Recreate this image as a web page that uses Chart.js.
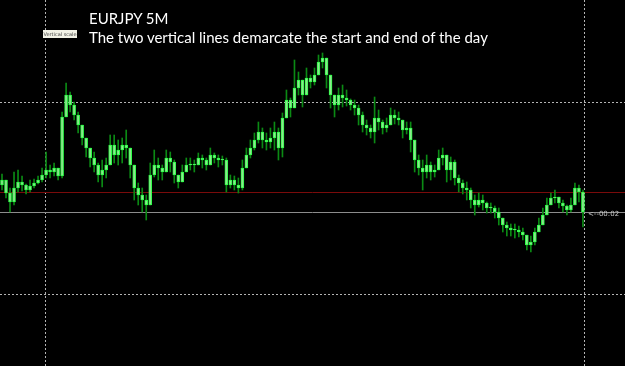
<!DOCTYPE html>
<html>
<head>
<meta charset="utf-8">
<script src="https://cdn.jsdelivr.net/npm/chart.js@4/dist/chart.umd.min.js"></script>
<style>
  body { margin: 0; background: #000; }
  #wrap { position: relative; width: 625px; height: 366px; background: #000; overflow: hidden; }
  #title { position: absolute; left: 89px; top: 9px; color: #fff; font: 15px Lato, sans-serif; line-height: 19px; white-space: nowrap; }
  #vscale { position: absolute; left: 43px; top: 30px; width: 34px; height: 8px; background: #f2f2e6; color: #444;
            font: 5px "DejaVu Sans", sans-serif; line-height: 8px; text-align: center; white-space: nowrap; overflow: hidden; }
  #timer { position: absolute; left: 588px; top: 210px; color: #c8c8c8; font: 7px "DejaVu Sans", sans-serif; white-space: nowrap; }
</style>
</head>
<body>
<div id="wrap">
  <canvas id="chart"></canvas>
  <div id="title">EURJPY 5M<br>The two vertical lines demarcate the start and end of the day</div>
  <div id="vscale">Vertical scale</div>
  <div id="timer">&lt;--00:02</div>
</div>
<script>
// EURJPY M5 Kerzen
const closes = [
  101.570,101.505,101.460,101.530,101.560,101.545,101.520,101.540,101.555,101.570,
  101.595,101.620,101.610,101.630,101.590,101.885,101.995,101.945,101.895,101.845,
  101.780,101.730,101.680,101.645,101.595,101.620,101.645,101.745,101.695,101.720,
  101.745,101.730,101.645,101.530,101.495,101.470,101.445,101.595,101.645,101.630,
  101.610,101.680,101.660,101.595,101.560,101.610,101.645,101.645,101.645,101.680,
  101.670,101.645,101.695,101.680,101.670,101.670,101.545,101.570,101.545,101.530,
  101.630,101.695,101.730,101.770,101.810,101.770,101.760,101.780,101.810,101.730,
  101.880,101.970,101.930,102.030,102.070,101.995,102.080,102.060,102.095,102.160,
  102.180,102.095,101.995,101.945,101.995,101.980,101.970,101.945,101.930,101.895,
  101.845,101.830,101.810,101.880,101.860,101.830,101.845,101.895,101.880,101.870,
  101.820,101.830,101.770,101.670,101.630,101.610,101.645,101.610,101.620,101.680,
  101.695,101.620,101.660,101.580,101.555,101.530,101.520,101.470,101.445,101.470,
  101.455,101.430,101.430,101.410,101.380,101.345,101.330,101.320,101.320,101.310,
  101.295,101.245,101.260,101.310,101.345,101.395,101.445,101.480,101.485,101.455,
  101.440,101.420,101.445,101.530,101.510,101.410
];
const highs = [
  101.600,101.570,101.530,101.610,101.620,101.590,101.550,101.570,101.575,101.590,
  101.630,101.710,101.645,101.655,101.620,101.910,102.055,102.010,101.960,101.910,
  101.830,101.770,101.730,101.710,101.655,101.670,101.680,101.795,101.795,101.770,
  101.780,101.820,101.720,101.610,101.555,101.530,101.495,101.655,101.720,101.680,
  101.645,101.720,101.710,101.670,101.595,101.645,101.680,101.680,101.670,101.705,
  101.695,101.680,101.730,101.705,101.695,101.690,101.680,101.595,101.590,101.580,
  101.670,101.730,101.770,101.805,101.860,101.830,101.805,101.830,101.860,101.830,
  101.905,102.020,101.980,102.170,102.110,102.070,102.130,102.095,102.130,102.195,
  102.205,102.160,102.045,101.995,102.030,102.045,102.020,101.975,101.970,101.945,
  101.910,101.870,101.845,101.985,101.920,101.870,101.880,101.930,101.920,101.910,
  101.870,101.860,101.860,101.730,101.695,101.670,101.695,101.660,101.645,101.720,
  101.730,101.695,101.685,101.670,101.595,101.570,101.560,101.530,101.495,101.505,
  101.495,101.460,101.455,101.440,101.430,101.380,101.360,101.350,101.350,101.340,
  101.330,101.290,101.290,101.330,101.380,101.430,101.480,101.505,101.520,101.485,
  101.470,101.445,101.480,101.555,101.545,101.520
];
const lows = [
  101.520,101.480,101.410,101.445,101.510,101.515,101.500,101.510,101.530,101.550,
  101.560,101.580,101.580,101.590,101.570,101.580,101.920,101.910,101.870,101.805,
  101.745,101.685,101.635,101.610,101.560,101.535,101.580,101.655,101.655,101.645,
  101.655,101.680,101.580,101.470,101.445,101.410,101.370,101.495,101.585,101.570,
  101.570,101.645,101.610,101.555,101.530,101.570,101.610,101.620,101.610,101.655,
  101.630,101.620,101.660,101.655,101.635,101.645,101.510,101.530,101.520,101.505,
  101.520,101.630,101.680,101.720,101.755,101.730,101.720,101.730,101.720,101.670,
  101.685,101.885,101.885,101.985,101.995,101.935,102.010,102.030,102.045,102.095,
  102.130,102.030,101.930,101.885,101.920,101.935,101.940,101.920,101.895,101.845,
  101.810,101.795,101.780,101.755,101.820,101.800,101.810,101.845,101.850,101.845,
  101.780,101.800,101.710,101.610,101.595,101.520,101.580,101.570,101.585,101.630,
  101.645,101.560,101.570,101.545,101.510,101.500,101.470,101.430,101.395,101.435,
  101.420,101.405,101.405,101.380,101.345,101.310,101.290,101.290,101.280,101.285,
  101.270,101.220,101.210,101.245,101.310,101.360,101.410,101.445,101.455,101.430,
  101.410,101.395,101.410,101.480,101.460,101.335
];
const firstOpen = 101.545;

const gridPrices = [101.00, 101.96];   // gepunktete Preisraster
const dayLines = [10.75, 145.25];      // Tagesbeginn / Tagesende (Kerzenindex)
const prevCloseLevel = 101.51;         // rote Linie
const bidLevel = 101.41;               // graue Linie (aktueller Kurs)
const slotCount = 156;                 // inkl. Leerraum rechts (chart shift)

// Zeitlabels (5-Minuten-Takt)
const labels = [];
for (let i = 0; i < slotCount; i++) {
    const m = (23 * 60 + 5 + i * 5) % 1440;
    labels.push(String(Math.floor(m / 60)).padStart(2, '0') + ':' + String(m % 60).padStart(2, '0'));
}

const opens = closes.map((c, i) => i === 0 ? firstOpen : closes[i - 1]);
const wicks = closes.map((c, i) => [Math.min(lows[i], opens[i], c), Math.max(highs[i], opens[i], c)]);
const bodies = closes.map((c, i) => [opens[i], c]);

function crisp(v) { return Math.round(v) + 0.5; }

const overlayLines = {
    id: 'overlayLines',
    beforeDatasetsDraw(chart) {
        const { ctx, chartArea: a, scales: { x, y } } = chart;
        ctx.save();
        ctx.lineWidth = 1;
        ctx.strokeStyle = '#b4b4b4';
        ctx.setLineDash([2, 2]);
        gridPrices.forEach(p => {
            const py = crisp(y.getPixelForValue(p));
            ctx.beginPath(); ctx.moveTo(a.left, py); ctx.lineTo(a.right, py); ctx.stroke();
        });
        dayLines.forEach(idx => {
            const px = crisp(x.getPixelForValue(idx));
            ctx.beginPath(); ctx.moveTo(px, a.top); ctx.lineTo(px, a.bottom); ctx.stroke();
        });
        ctx.setLineDash([]);
        let py = crisp(y.getPixelForValue(prevCloseLevel));
        ctx.strokeStyle = '#7a0b0b';
        ctx.beginPath(); ctx.moveTo(a.left, py); ctx.lineTo(a.right, py); ctx.stroke();
        py = crisp(y.getPixelForValue(bidLevel));
        ctx.strokeStyle = '#8c8c8c';
        ctx.beginPath(); ctx.moveTo(a.left, py); ctx.lineTo(a.right, py); ctx.stroke();
        ctx.restore();
    }
};

new Chart(document.getElementById('chart'), {
    type: 'bar',
    data: {
        labels: labels,
        datasets: [
            {
                label: 'Docht',
                data: wicks,
                backgroundColor: '#0b8a14',
                barThickness: 1,
                minBarLength: 1,
                order: 2
            },
            {
                label: 'Körper',
                data: bodies,
                backgroundColor: '#8fe58f',
                borderColor: '#2aff45',
                borderWidth: 1,
                borderSkipped: false,
                barThickness: 3,
                minBarLength: 1,
                order: 1
            }
        ]
    },
    options: {
        responsive: true,
        maintainAspectRatio: false,
        animation: false,
        grouped: false,
        layout: { padding: 0 },
        plugins: { legend: { display: false }, tooltip: { enabled: false } },
        scales: {
            x: { display: false, offset: true },
            y: { display: false, min: 100.64, max: 102.47 }
        }
    },
    plugins: [overlayLines]
});
</script>
</body>
</html>
